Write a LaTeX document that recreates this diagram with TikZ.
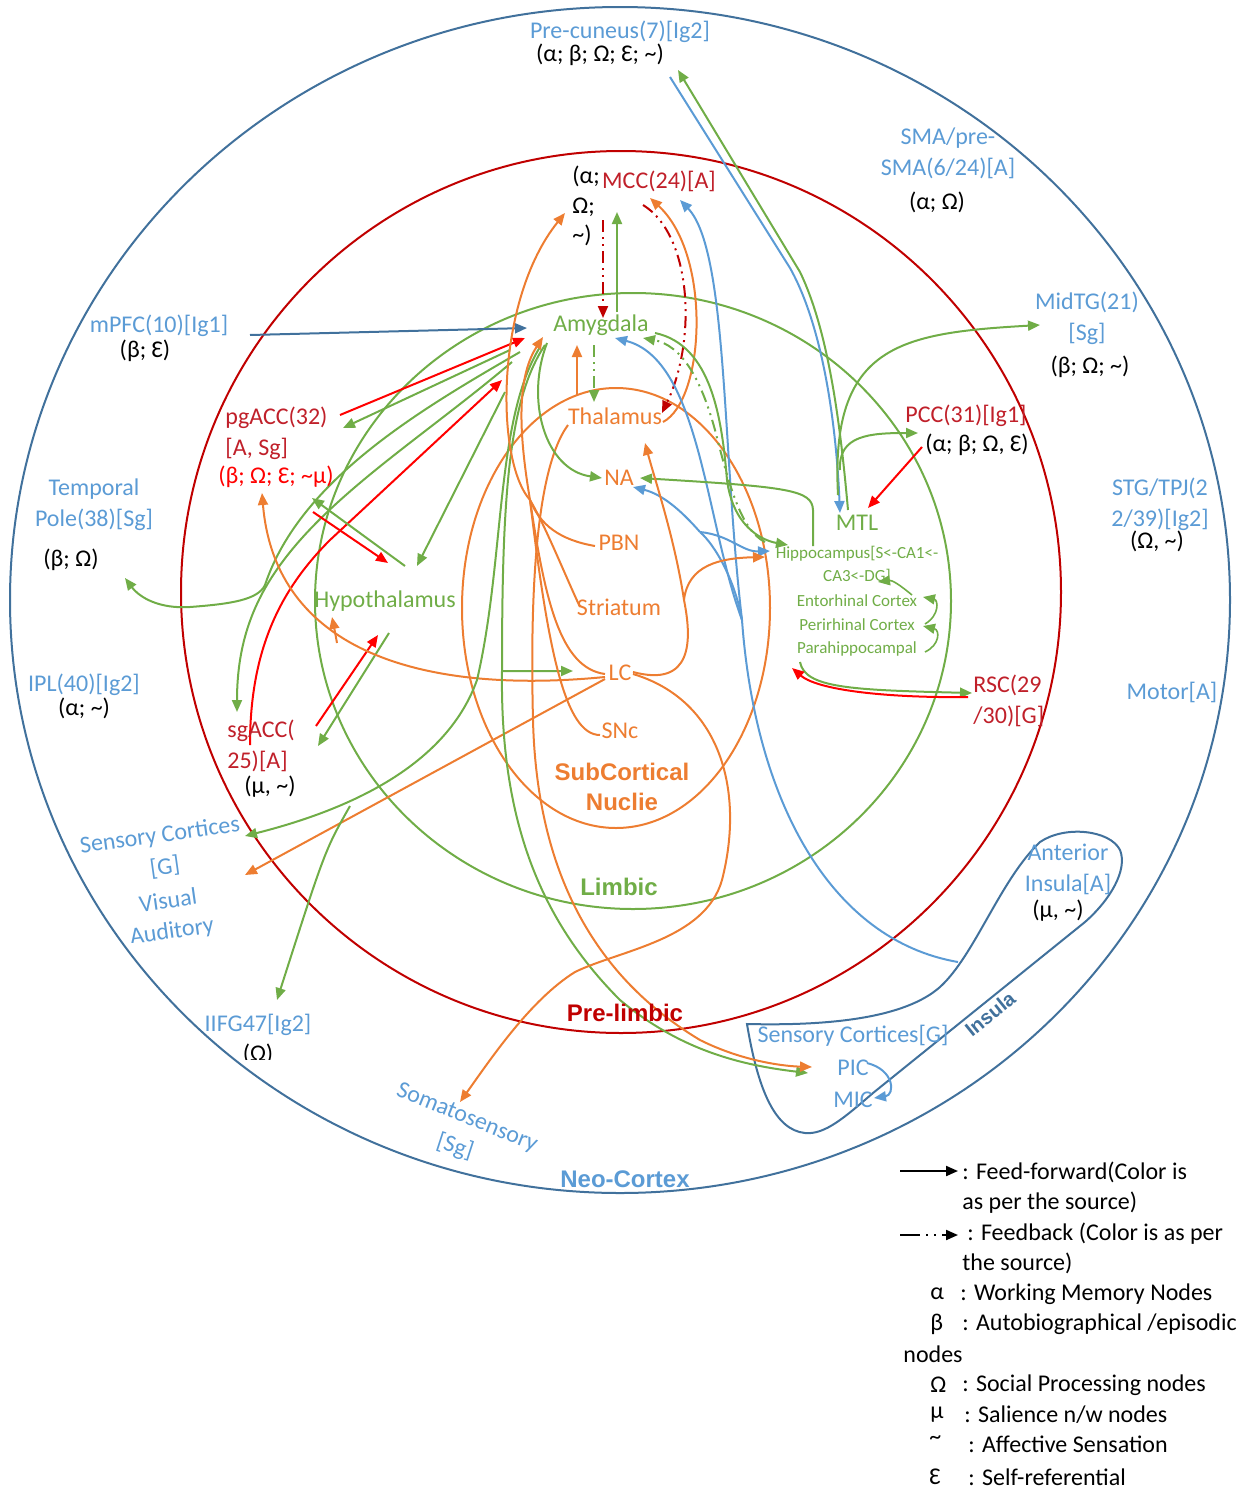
\documentclass[tikz,border=0pt]{standalone}
\usepackage{fontspec}
\setmainfont{Carlito}
\newfontfamily\arialb{Liberation Sans}
\usetikzlibrary{arrows.meta}
\definecolor{lblue}{HTML}{5B9BD5}
\definecolor{dblue}{HTML}{41719C}
\definecolor{dred}{HTML}{C00000}
\definecolor{tred}{HTML}{C0202A}
\definecolor{bred}{HTML}{FF0000}
\definecolor{grn}{HTML}{70AD47}
\definecolor{org}{HTML}{ED7D31}
\begin{document}
\begin{tikzpicture}[x=0.5pt,y=-0.5pt,
  lab/.style={inner sep=0pt,font=\fontsize{12}{15.5}\selectfont,align=center},
  sml/.style={inner sep=0pt,font=\fontsize{8.5}{11.5}\selectfont,align=center,text=grn},
  big/.style={inner sep=0pt,font=\arialb\bfseries\fontsize{12}{15}\selectfont,align=center},
  ff/.style={line width=1pt,-{Triangle[length=6pt,width=5pt]}},
  fb/.style={ff,dash pattern=on 6pt off 2.5pt on 1pt off 2.5pt on 1pt off 2.5pt},
  ring/.style={line width=1pt}]
\useasboundingbox (0,0) rectangle (1252,1489);
% ---------------- rings ----------------
\draw[ring,dblue] (620,600) ellipse [x radius=610,y radius=593];
\draw[ring,dred] (621,592) ellipse [x radius=440,y radius=441];
\draw[ring,grn] (633,601) ellipse [x radius=318,y radius=308];
\draw[ring,org] (616,608) ellipse [x radius=154,y radius=220];
\draw[ring,dblue] (747,1024) .. controls (830,1026) and (905,1018) .. (940,987) .. controls (975,955) and (1000,880) .. (1040,842) .. controls (1065,825) and (1110,830) .. (1120,850) .. controls (1128,870) and (1110,900) .. (1085,922) -- (873,1093) .. controls (845,1117) and (825,1135) .. (805,1133) .. controls (775,1130) and (758,1090) .. cycle;
% ---------------- connector end points ----------------
\coordinate (mpfcO) at (250,335);  \coordinate (amygA) at (527,328);
\coordinate (pgO1) at (340,415);   \coordinate (amygB) at (525,338);
\coordinate (amygC) at (510,350);  \coordinate (pgI1) at (343,428);
\coordinate (sgO1) at (250,745);   \coordinate (amygD) at (502,380);
\coordinate (amygE) at (512,362);  \coordinate (sgI1) at (237,712);
\coordinate (amygF) at (520,352);  \coordinate (tpI) at (125,578);
\coordinate (amygG) at (505,392);  \coordinate (hypoI1) at (417,566);
\coordinate (hypoO1) at (405,566); \coordinate (pgI3) at (312,498);
\coordinate (pgO2) at (313,512);   \coordinate (hypoI3) at (388,563);
\coordinate (sgO2) at (316,726);   \coordinate (hypoI4) at (378,635);
\coordinate (hypoO2) at (389,633); \coordinate (sgI2) at (318,746);
\coordinate (lcA) at (605,677);    \coordinate (pgI2) at (262,493);
\coordinate (obr) at (337,643);    \coordinate (hypoI2) at (332,617);
\coordinate (lcB) at (605,679);    \coordinate (sensI1) at (245,875);
\coordinate (amygH) at (540,347);  \coordinate (sensI2) at (245,836);
\coordinate (gbr2) at (350,806);   \coordinate (iifgI) at (277,1000);
\coordinate (amygI) at (545,345);  \coordinate (gbr) at (502,671);
\coordinate (lcI) at (573,671);    \coordinate (picI1) at (808,1073);
\coordinate (thA) at (568,425);    \coordinate (picI2) at (812,1067);
\coordinate (lcC) at (633,674);    \coordinate (somaI) at (460,1102);
\coordinate (conv) at (530,500);
\coordinate (pbnO) at (595,546);   \coordinate (striO) at (580,607);
\coordinate (lcD) at (605,674);    \coordinate (sncO) at (600,735);
\coordinate (mccI1) at (565,213);  \coordinate (amygJ) at (543,337);
\coordinate (thO1) at (577,395);   \coordinate (amygP) at (577,345);
\coordinate (amygQ) at (594,345);  \coordinate (thI1) at (594,402);
\coordinate (mccO1) at (603,220);  \coordinate (amygR) at (603,318);
\coordinate (amygS) at (617,312);  \coordinate (mccI3) at (617,212);
\coordinate (mccO2) at (643,205);  \coordinate (thI2) at (662,413);
\coordinate (thO2) at (663,422);   \coordinate (mccI4) at (650,198);
\coordinate (ainsO) at (958,962);  \coordinate (bt) at (742,620);
\coordinate (mccI2) at (680,200);  \coordinate (amygK) at (615,338);
\coordinate (bsp) at (700,532);    \coordinate (naI1) at (633,487);
\coordinate (hipI1) at (770,551);
\coordinate (pcO) at (670,77);     \coordinate (mtlI1) at (840,513);
\coordinate (mtlO1) at (848,510);  \coordinate (pcI) at (678,70);
\coordinate (mtlO2) at (838,495);  \coordinate (midI) at (1040,325);
\coordinate (mtlO3) at (840,470);  \coordinate (pccI) at (918,433);
\coordinate (pccO) at (922,447);   \coordinate (mtlI2) at (868,508);
\coordinate (paraO) at (800,662);  \coordinate (rscI) at (972,693);
\coordinate (rscO) at (968,697);   \coordinate (paraI) at (792,668);
\coordinate (hipO1) at (813,546);  \coordinate (naI2) at (640,478);
\coordinate (amygL) at (655,333);  \coordinate (hipI2) at (788,545);
\coordinate (hipO2) at (765,542);  \coordinate (amygM) at (643,338);
\coordinate (amygN) at (547,343);  \coordinate (naI3) at (602,478);
\coordinate (lcE) at (633,672);    \coordinate (obr2) at (684,600);
\coordinate (thI3) at (645,443);   \coordinate (hipI3) at (765,557);
\coordinate (entoO) at (912,595);  \coordinate (hipI4) at (878,582);
\coordinate (periO) at (925,624);  \coordinate (entoI) at (923,597);
\coordinate (paraO2) at (925,652); \coordinate (periI) at (923,626);
\coordinate (picO) at (867,1063);  \coordinate (micI) at (874,1098);
% ---------------- connectors ----------------
\draw[ff,dblue] (mpfcO) -- (amygA);
\draw[ff,bred] (pgO1) -- (amygB);
\draw[ff,grn] (amygC) -- (pgI1);
\draw[ff,bred] (sgO1) .. controls (250,650) and (280,590) .. (330,540) -- (amygD);
\draw[ff,grn] (amygE) .. controls (420,440) and (320,500) .. (270,580) .. controls (245,620) and (237,660) .. (sgI1);
\draw[ff,grn] (amygF) .. controls (420,410) and (300,480) .. (265,585) .. controls (258,600) and (230,604) .. (190,607) .. controls (160,609) and (140,598) .. (tpI);
\draw[ff,grn] (amygG) -- (hypoI1);
\draw[ff,grn] (hypoO1) -- (pgI3);
\draw[ff,bred] (pgO2) -- (hypoI3);
\draw[ff,bred] (sgO2) -- (hypoI4);
\draw[ff,grn] (hypoO2) -- (sgI2);
\draw[ff,org] (lcA) .. controls (420,695) and (275,650) .. (pgI2);
\draw[ff,org] (obr) .. controls (335,632) .. (hypoI2);
\draw[ff,org] (lcB) -- (sensI1);
\draw[ff,grn] (amygH) .. controls (495,420) and (505,560) .. (477,680) .. controls (445,770) and (340,812) .. (sensI2);
\draw[ff,grn] (gbr2) .. controls (325,850) .. (iifgI);
\draw[ff,grn] (amygI) .. controls (508,400) and (502,500) .. (gbr) -- (lcI);
\draw[ff,grn] (gbr) .. controls (500,820) and (540,920) .. (620,1000) .. controls (680,1050) and (740,1065) .. (picI1);
\draw[ff,org] (thA) .. controls (535,470) and (530,600) .. (533,720) .. controls (537,880) and (600,980) .. (700,1040) .. controls (740,1060) and (780,1066) .. (picI2);
\draw[ff,org] (lcC) .. controls (720,700) and (745,790) .. (722,880) .. controls (705,940) and (620,950) .. (575,972) .. controls (530,1000) and (490,1060) .. (somaI);
\draw[line width=1pt,org] (pbnO) .. controls (560,540) and (540,525) .. (conv);
\draw[line width=1pt,org] (striO) .. controls (565,575) and (545,525) .. (conv);
\draw[line width=1pt,org] (lcD) .. controls (560,668) and (545,600) .. (conv);
\draw[line width=1pt,org] (sncO) .. controls (565,735) and (548,650) .. (conv);
\draw[ff,org] (conv) .. controls (495,460) and (495,300) .. (mccI1);
\draw[ff,org] (conv) .. controls (520,440) and (515,380) .. (amygJ);
\draw[ff,org] (thO1) -- (amygP);
\draw[fb,grn] (amygQ) -- (thI1);
\draw[fb,dred] (mccO1) -- (amygR);
\draw[ff,grn] (amygS) -- (mccI3);
\draw[fb,dred] (mccO2) .. controls (692,235) and (697,340) .. (thI2);
\draw[ff,org] (thO2) .. controls (705,400) and (712,255) .. (mccI4);
\draw[line width=1pt,lblue] (ainsO) .. controls (830,940) and (755,800) .. (bt);
\draw[ff,lblue] (bt) .. controls (722,450) and (728,250) .. (mccI2);
\draw[ff,lblue] (bt) .. controls (705,520) and (700,360) .. (amygK);
\draw[line width=1pt,lblue] (bt) .. controls (735,580) and (715,545) .. (bsp);
\draw[ff,lblue] (bsp) .. controls (685,515) and (665,495) .. (naI1);
\draw[ff,lblue] (bsp) .. controls (730,535) and (742,552) .. (hipI1);
\draw[ff,lblue] (pcO) -- (790,268) .. controls (822,325) and (836,420) .. (mtlI1);
\draw[ff,grn] (mtlO1) .. controls (840,420) and (828,330) .. (800,272) -- (pcI);
\draw[ff,grn] (mtlO2) .. controls (830,345) and (900,333) .. (midI);
\draw[ff,grn] (mtlO3) .. controls (838,435) and (870,433) .. (pccI);
\draw[ff,bred] (pccO) -- (mtlI2);
\draw[ff,grn] (paraO) .. controls (805,688) and (850,690) .. (rscI);
\draw[ff,bred] (rscO) .. controls (900,698) and (820,692) .. (paraI);
\draw[ff,grn] (hipO1) -- (813,510) .. controls (812,490) and (790,487) .. (naI2);
\draw[ff,grn] (amygL) .. controls (712,345) and (722,420) .. (727,480) .. controls (733,525) and (760,540) .. (hipI2);
\draw[fb,grn] (hipO2) .. controls (740,530) and (728,480) .. (715,430) .. controls (700,375) and (680,345) .. (amygM);
\draw[ff,grn] (amygN) .. controls (525,400) and (545,470) .. (naI3);
\draw[ff,org] (lcE) .. controls (693,688) and (692,640) .. (obr2) .. controls (675,540) and (655,480) .. (thI3);
\draw[ff,org] (obr2) .. controls (688,565) and (720,558) .. (hipI3);
\draw[ff,grn,line width=0.8pt] (entoO) .. controls (900,585) and (892,580) .. (hipI4);
\draw[ff,grn,line width=0.8pt] (periO) .. controls (940,615) and (938,600) .. (entoI);
\draw[ff,grn,line width=0.8pt] (paraO2) .. controls (940,645) and (940,630) .. (periI);
\draw[ff,lblue] (picO) .. controls (895,1070) and (895,1095) .. (micI);
% ---------------- Neo-cortex labels ----------------
\node[lab,text=lblue] (precun) at (620,32) {Pre-cuneus(7)[Ig2]};
\node[lab] (precunT) at (600,55) {(α; β; Ω; Ɛ; \textasciitilde)};
\node[lab,text=lblue] (sma) at (948,153) {SMA/pre-\\SMA(6/24)[A]};
\node[lab] (smaT) at (937,202) {(α; Ω)};
\node[lab,text=lblue] (midtg) at (1087,318) {MidTG(21)\\{}[Sg]};
\node[lab] (midtgT) at (1090,367) {(β; Ω; \textasciitilde)};
\node[lab,text=lblue] (stg) at (1160,504) {STG/TPJ(2\\2/39)[Ig2]};
\node[lab] (stgT) at (1157,541) {(Ω, \textasciitilde)};
\node[lab,text=lblue] (motor) at (1172,692) {Motor[A]};
\node[lab,text=lblue] (antins) at (1068,869) {Anterior\\Insula[A]};
\node[lab] (antinsT) at (1058,911) {(μ, \textasciitilde)};
\node[lab,text=lblue] (sensR) at (853,1036) {Sensory Cortices[G]};
\node[lab,text=lblue] (pic) at (853,1068) {PIC};
\node[lab,text=lblue] (mic) at (853,1100) {MIC};
\node[inner sep=0pt,text=dblue,rotate=39,font=\arialb\bfseries\fontsize{10}{12}\selectfont] (insula) at (990,1014) {Insula};
\node[lab,text=lblue,rotate=-22] (soma) at (467,1118) {Somatosensory};
\node[lab,text=lblue,rotate=-18] (somasg) at (455,1147) {[Sg]};
\node[big,text=lblue] (neoc) at (625,1179) {Neo-Cortex};
\node[lab,text=lblue] (iifg) at (258,1025) {IIFG47[Ig2]};
\begin{scope}
\clip (200,1036) rectangle (320,1059);
\node[lab] (iifgT) at (258,1054) {(Ω)};
\end{scope}
\node[lab,text=lblue,rotate=8] (sensL) at (160,836) {Sensory Cortices};
\node[lab,text=lblue,rotate=8] (sensLg) at (165,867) {[G]};
\node[lab,text=lblue,rotate=8] (visual) at (168,900) {Visual};
\begin{scope}
\clip (100,905) rectangle (260,942);
\node[lab,text=lblue,rotate=8] (audit) at (172,932) {Auditory};
\end{scope}
\node[lab,text=lblue] (ipl) at (84,685) {IPL(40)[Ig2]};
\node[lab] (iplT) at (84,708) {(α; \textasciitilde)};
\node[lab,text=lblue] (tp) at (94,505) {Temporal\\Pole(38)[Sg]};
\node[lab] (tpT) at (71,560) {(β; Ω)};
\node[lab,text=lblue] (mpfc) at (159,326) {mPFC(10)[Ig1]};
\node[lab] (mpfcT) at (145,351) {(β; Ɛ)};
% ---------------- Pre-limbic labels ----------------
\node[lab,text=tred,align=left,anchor=west] (pgacc) at (225,433) {pgACC(32)\\{}[A, Sg]};
\node[lab,text=bred] (pgaccT) at (276,477) {(β; Ω; Ɛ; \textasciitilde μ)};
\node[lab,text=tred,align=left,anchor=west] (sgacc) at (227,746) {sgACC(\\25)[A]};
\node[lab] (sgaccT) at (270,787) {(μ, \textasciitilde)};
\node[lab,text=tred] (mcc) at (659,181) {MCC(24)[A]};
\node[lab,align=left,anchor=west,font=\fontsize{12}{14.8}\selectfont] (mccT) at (572,206) {(α;\\Ω;\\\textasciitilde)};
\node[lab,text=tred] (pcc) at (966,416) {PCC(31)[Ig1]};
\node[lab] (pccT) at (977,445) {(α; β; Ω, Ɛ)};
\node[lab,text=tred,align=left,anchor=west] (rsc) at (973,701) {RSC(29\\/30)[G]};
\node[big,text=dred] (prelim) at (625,1013) {Pre-limbic};
% ---------------- Limbic labels ----------------
\node[lab,text=grn] (amyg) at (601,325) {Amygdala};
\node[lab,text=grn] (hypo) at (385,601) {Hypothalamus};
\node[lab,text=grn] (mtl) at (857,523) {MTL};
\node[sml] (hippo) at (857,565) {Hippocampus[S<-CA1<-\\CA3<-DG]};
\node[sml] (ento) at (857,601) {Entorhinal Cortex};
\node[sml] (peri) at (857,625) {Perirhinal Cortex};
\node[sml] (para) at (857,649) {Parahippocampal};
\node[big,text=grn] (limbic) at (619,887) {Limbic};
% ---------------- SubCortical labels ----------------
\node[lab,text=org] (thal) at (615,416) {Thalamus};
\node[lab,text=org] (na) at (619,478) {NA};
\node[lab,text=org] (pbn) at (619,543) {PBN};
\node[lab,text=org] (stri) at (619,607) {Striatum};
\node[lab,text=org] (lc) at (620,673) {LC};
\node[lab,text=org] (snc) at (620,731) {SNc};
\node[big,text=org] (subc) at (622,787) {SubCortical\\Nuclie};
% ---------------- legend ----------------
\coordinate (lgA1) at (900,1171); \coordinate (lgA2) at (958,1171);
\coordinate (lgB1) at (900,1235); \coordinate (lgB2) at (958,1235);
\draw[ff,black] (lgA1) -- (lgA2);
\draw[black,line width=1pt,-{Triangle[length=6pt,width=5pt]},dash pattern=on 10pt off 3pt on 1pt off 3pt on 1pt off 3pt] (lgB1) -- (lgB2);
\node[lab,anchor=west] (lg1) at (962,1172) {: Feed-forward(Color is};
\node[lab,anchor=west] (lg1b) at (962,1203) {as per the source)};
\node[lab,anchor=west] (lg2) at (967,1234) {: Feedback (Color is as per};
\node[lab,anchor=west] (lg2b) at (962,1263) {the source)};
\node[lab,anchor=west] (lgas) at (930,1294) {α};
\node[lab,anchor=west] (lga) at (960,1294) {: Working Memory Nodes};
\node[lab,anchor=west] (lgbs) at (930,1324) {β};
\node[lab,anchor=west] (lgb) at (962,1324) {: Autobiographical /episodic};
\node[lab,anchor=west] (lgb2) at (903,1354) {nodes};
\node[lab,anchor=west] (lgos) at (930,1385) {Ω};
\node[lab,anchor=west] (lgo) at (962,1385) {: Social Processing nodes};
\node[lab,anchor=west] (lgms) at (930,1415) {μ};
\node[lab,anchor=west] (lgm) at (964,1415) {: Salience n/w nodes};
\node[lab,anchor=west] (lgts) at (929,1440) {\textasciitilde};
\node[lab,anchor=west] (lgt) at (968,1444) {: Affective Sensation};
\node[lab,anchor=west] (lges) at (929,1477) {Ɛ};
\node[lab,anchor=west] (lge) at (968,1477) {: Self-referential};
\end{tikzpicture}
\end{document}
